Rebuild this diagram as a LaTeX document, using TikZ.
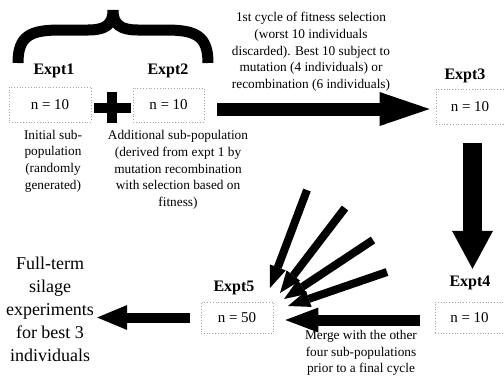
\documentclass[tikz,border=0pt]{standalone}
\usepackage{fontspec}
\setmainfont{Liberation Serif}
\usetikzlibrary{arrows.meta}

\begin{document}
\begin{tikzpicture}[x=1pt,y=-1pt]
	\tikzstyle{popbox}=[draw=gray!70,dotted,line width=0.8pt,inner sep=0pt,font=\fontsize{15}{18}\selectfont]
	\tikzstyle{expt}=[inner sep=0pt,font=\fontsize{16}{19}\selectfont\bfseries]
	\tikzstyle{note}=[align=center,inner sep=0pt,font=\fontsize{13.3}{16.7}\selectfont]
	\tikzstyle{fat}=[line width=13pt,-{Triangle[length=50pt,width=34pt,line width=0pt]}]
	\tikzstyle{thin}=[line width=10pt,-{Triangle[length=30pt,width=25pt,line width=0pt]}]
	\tikzstyle{fan}=[line width=8pt,-{Triangle[length=22pt,width=17pt,line width=0pt]}]
	\useasboundingbox (0,0) rectangle (504,376);
	% brace over the first two sub-populations
	\draw[line width=11pt]
		(18,63) .. controls (18,36) and (30,30) .. (60,30) -- (88,30)
		.. controls (105,30) and (113,25) .. (113,10)
		.. controls (113,25) and (121,30) .. (138,30) -- (166,30)
		.. controls (196,30) and (208,36) .. (208,63);
	\node[expt](lab1) at (54,71) {Expt1};
	\node[expt](lab2) at (168,71) {Expt2};
	\node[expt](lab3) at (465,76) {Expt3};
	\node[expt](lab4) at (470,283) {Expt4};
	\node[expt](lab5) at (234,288) {Expt5};
	\node[popbox,minimum width=82pt,minimum height=35pt](box1) at (50,104.5) {n = 10};
	\node[popbox,minimum width=71pt,minimum height=34pt](box2) at (168.5,105) {n = 10};
	\node[popbox,minimum width=68pt,minimum height=35pt](box3) at (470,106.5) {n = 10};
	\node[popbox,minimum width=69pt,minimum height=31pt](box4) at (469.5,317.5) {n = 10};
	\node[popbox,minimum width=72pt,minimum height=31pt](box5) at (237,317.5) {n = 50};
	% plus sign
	\fill (94,103) rectangle (131,113);
	\fill (107,92) rectangle (117,123);
	\node[note](init) at (53,161) {Initial sub-\\population\\(randomly\\generated)};
	\node[note](addl) at (178,170) {Additional sub-population\\(derived from expt 1 by\\mutation recombination\\with selection based on\\fitness)};
	\node[note](cyc) at (311,52) {1st cycle of fitness selection\\(worst 10 individuals\\discarded). Best 10 subject to\\mutation (4 individuals) or\\recombination (6 individuals)};
	\node[note](merge) at (361,353) {Merge with the other\\four sub-populations\\prior to a final cycle};
	\node[align=center,inner sep=0pt,font=\fontsize{18}{23}\selectfont](full) at (50,309) {Full-term\\silage\\experiments\\for best 3\\individuals};
	% arrows
	\draw[fat,shorten <=13pt,shorten >=6pt] ([yshift=-4pt]box2.east) -- ([yshift=-2.5pt]box3.west);
	\draw[line width=19pt,-{Triangle[length=38pt,width=41pt,line width=0pt]},shorten <=19pt,shorten >=7pt] ([xshift=2.5pt]box3.south) -- ([xshift=2.5pt]lab4.north);
	\draw[thin,line width=11pt,-{Triangle[length=33pt,width=25pt,line width=0pt]},shorten <=15pt,shorten >=12pt] ([yshift=-2.5pt]box4.west) -- ([yshift=-2.5pt]box5.east);
	\draw[thin,shorten <=11pt,shorten >=3pt] (box5.west) -- (box5.west -| full.east);
	\coordinate (f1a) at (307,190); \coordinate (f1b) at (270,288);
	\coordinate (f2a) at (345,208); \coordinate (f2b) at (280,293);
	\coordinate (f3a) at (373,240); \coordinate (f3b) at (284,299);
	\coordinate (f4a) at (387,272); \coordinate (f4b) at (288,306);
	\draw[fan] (f1a) -- (f1b);
	\draw[fan] (f2a) -- (f2b);
	\draw[fan] (f3a) -- (f3b);
	\draw[fan] (f4a) -- (f4b);
\end{tikzpicture}
\end{document}
